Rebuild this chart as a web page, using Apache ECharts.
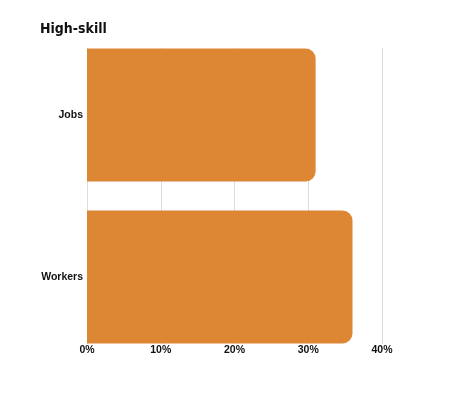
<!DOCTYPE html>
<html>
<head>
<meta charset="utf-8">
<script src="https://cdn.jsdelivr.net/npm/echarts@6/dist/echarts.min.js"></script>
<style>html,body{margin:0;padding:0;background:#fff}#c{width:470px;height:394px}</style>
</head>
<body>
<div id="c"></div>
<script>
var categories = ['Jobs', 'Workers'];
var jobsValues = [31, '-'];
var workersValues = ['-', 36];
var xTicks = [0, 10, 20, 30, 40];

var chart = echarts.init(document.getElementById('c'), null, {renderer: 'canvas'});
var barStyle = {color: '#DD8735', borderRadius: [0, 10, 10, 0]};
var barLabel = {show: true, position: 'left', distance: 4, formatter: '{b}', fontFamily: 'Liberation Sans', fontWeight: 'bold', fontSize: 10.5, color: '#111'};
chart.setOption({
  animation: false,
  title: {
    text: 'High-skill', left: 40, top: 22, padding: 0,
    textStyle: {fontFamily: 'DejaVu Sans', fontStyle: 'condensed', fontWeight: 'bold', fontSize: 14, color: '#111'}
  },
  grid: {left: 87, right: 88, top: 48, bottom: 50},
  xAxis: {
    type: 'value', min: xTicks[0], max: xTicks[xTicks.length - 1], interval: 10,
    axisLine: {show: false}, axisTick: {show: false},
    splitLine: {lineStyle: {color: '#dddddd', width: 1}},
    axisLabel: {formatter: '{value}%', fontFamily: 'Liberation Sans', fontWeight: 'bold', fontSize: 10.5, color: '#111', margin: 1}
  },
  yAxis: {
    type: 'category', data: categories, inverse: true,
    axisLine: {show: false}, axisTick: {show: false},
    axisLabel: {show: false}
  },
  series: [
    {type: 'bar', data: jobsValues, barWidth: 133, barGap: '-89.5%', itemStyle: barStyle, label: barLabel},
    {type: 'bar', data: workersValues, barWidth: 133, barGap: '-89.5%', itemStyle: barStyle, label: barLabel}
  ]
});
</script>
</body>
</html>
